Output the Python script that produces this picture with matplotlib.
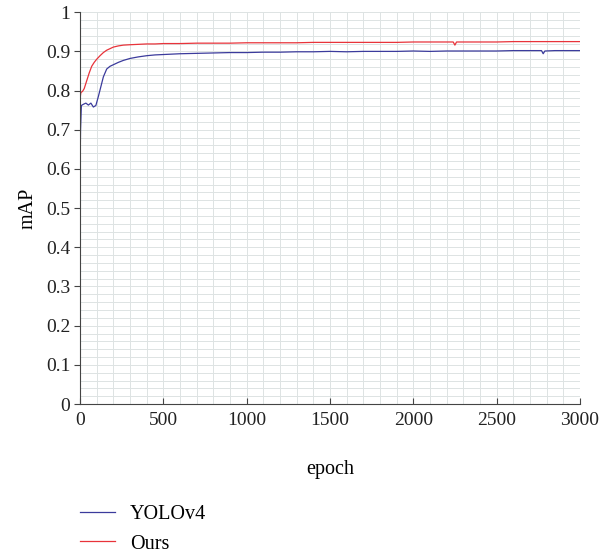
import matplotlib.pyplot as plt
from matplotlib.ticker import MultipleLocator

plt.rcParams['font.family'] = ['Liberation Serif', 'DejaVu Serif']

# training curves
ep_yolo = [0, 3, 8, 20, 35, 50, 65, 80, 95, 110, 125, 140, 160, 180, 200, 230, 260, 300, 350,
           400, 450, 500, 600, 700, 800, 900, 1000, 1100, 1200, 1300, 1400, 1500, 1600,
           1700, 1800, 1900, 2000, 2100, 2200, 2300, 2400, 2500, 2600, 2700, 2770, 2780,
           2790, 2850, 2900, 3000]
map_yolo = [0.60, 0.70, 0.762, 0.765, 0.768, 0.763, 0.768, 0.758, 0.762, 0.785, 0.810,
            0.835, 0.855, 0.862, 0.866, 0.872, 0.877, 0.882, 0.886, 0.889, 0.891, 0.892,
            0.894, 0.895, 0.896, 0.897, 0.897, 0.898, 0.898, 0.899, 0.899, 0.900, 0.899,
            0.900, 0.900, 0.900, 0.901, 0.900, 0.901, 0.901, 0.901, 0.901, 0.902, 0.902,
            0.902, 0.894, 0.901, 0.902, 0.902, 0.902]

ep_ours = [0, 5, 15, 25, 40, 55, 70, 85, 100, 120, 140, 160, 180, 200, 230, 260, 300, 350,
           400, 450, 500, 600, 700, 800, 900, 1000, 1100, 1200, 1300, 1400, 1500, 1600,
           1700, 1800, 1900, 2000, 2100, 2200, 2240, 2250, 2260, 2300, 2400, 2500, 2600,
           2700, 2800, 2900, 3000]
map_ours = [0.78, 0.795, 0.798, 0.805, 0.825, 0.845, 0.862, 0.872, 0.880, 0.889, 0.897,
            0.903, 0.907, 0.911, 0.914, 0.916, 0.917, 0.918, 0.919, 0.919, 0.920, 0.920,
            0.921, 0.921, 0.921, 0.922, 0.922, 0.922, 0.922, 0.923, 0.923, 0.923, 0.923,
            0.923, 0.923, 0.924, 0.924, 0.924, 0.924, 0.916, 0.924, 0.924, 0.924, 0.924,
            0.925, 0.925, 0.925, 0.925, 0.925]

fig = plt.figure(figsize=(6.11, 5.55), dpi=100)
ax = fig.add_axes([0.131, 0.272, 0.818, 0.706])

ax.plot(ep_yolo, map_yolo, color='#3b3b9c', lw=0.9, label='YOLOv4')
ax.plot(ep_ours, map_ours, color='#e8333a', lw=0.9, label='Ours')

ax.set_xlim(0, 3000)
ax.set_ylim(0, 1)
ax.xaxis.set_major_locator(MultipleLocator(500))
ax.xaxis.set_minor_locator(MultipleLocator(100))
ax.yaxis.set_minor_locator(MultipleLocator(0.02))
ax.set_yticks([i / 10 for i in range(11)])
ax.set_yticklabels(['0', '0.1', '0.2', '0.3', '0.4', '0.5', '0.6', '0.7', '0.8', '0.9', '1'])

ax.grid(which='both', color='#dde3e3', lw=0.7)
ax.set_axisbelow(True)
ax.spines['top'].set_visible(False)
ax.spines['right'].set_visible(False)
for s in ('left', 'bottom'):
    ax.spines[s].set_color('#444444')
ax.tick_params(which='major', length=4, labelsize=14, colors='#444444', labelcolor='#222222')
ax.tick_params(axis='x', which='major', direction='in', pad=6)
ax.tick_params(axis='y', which='major', direction='out', pad=3)
ax.tick_params(which='minor', length=0)

ax.set_xlabel('epoch', fontsize=14.5, labelpad=22)
ax.set_ylabel('mAP', fontsize=14.5, labelpad=6)

fig.legend(loc='lower left', bbox_to_anchor=(0.102, -0.03), frameon=False, fontsize=14.5,
           handlelength=1.7, labelspacing=0.5, handletextpad=0.75)

fig.savefig('out.png', dpi=100)
